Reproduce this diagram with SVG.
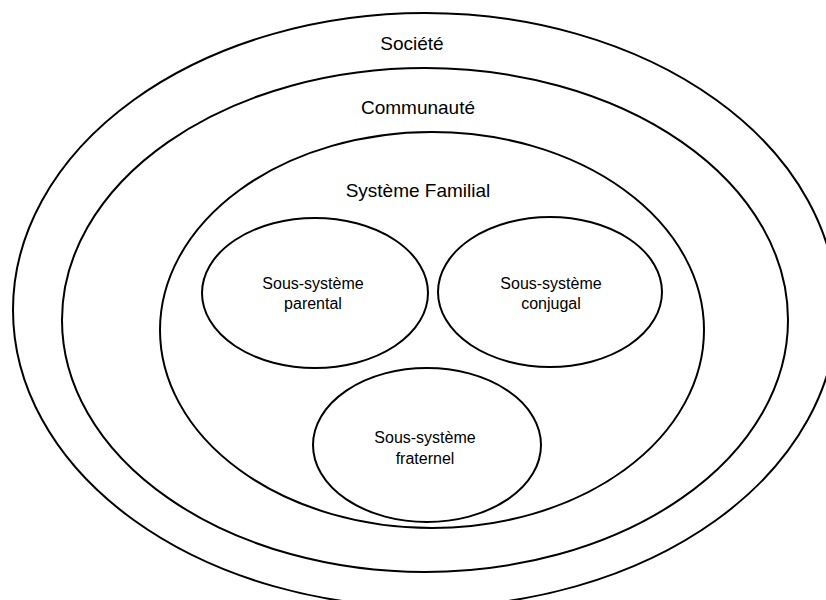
<svg xmlns="http://www.w3.org/2000/svg" width="826" height="600" viewBox="0 0 826 600">
<style>
.e{fill:none;stroke:#000;stroke-width:2}
.big{font-family:"Liberation Sans",Arial,sans-serif;font-size:19px;fill:#000;text-anchor:middle}
.sm{font-family:"Liberation Sans",Arial,sans-serif;font-size:16px;fill:#000;text-anchor:middle}
</style>
<rect width="826" height="600" fill="#fff"/>
<g id="societe">
<ellipse class="e" cx="425" cy="310" rx="412" ry="297"/>
<text class="big" x="412" y="50">Société</text>
</g>
<g id="communaute">
<ellipse class="e" cx="425" cy="320" rx="363" ry="252"/>
<text class="big" x="418" y="114">Communauté</text>
</g>
<g id="systeme-familial">
<ellipse class="e" cx="432" cy="330" rx="272" ry="198"/>
<text class="big" x="418" y="197">Système Familial</text>
</g>
<g id="parental">
<ellipse class="e" cx="315" cy="293" rx="113" ry="75"/>
<text class="sm" x="313" y="289">Sous-système</text>
<text class="sm" x="313" y="309">parental</text>
</g>
<g id="conjugal">
<ellipse class="e" cx="550" cy="292" rx="112" ry="75"/>
<text class="sm" x="551" y="289">Sous-système</text>
<text class="sm" x="551" y="309">conjugal</text>
</g>
<g id="fraternel">
<ellipse class="e" cx="427" cy="445" rx="114" ry="77"/>
<text class="sm" x="425" y="443">Sous-système</text>
<text class="sm" x="425" y="464">fraternel</text>
</g>
<g id="connectors"/>
</svg>
